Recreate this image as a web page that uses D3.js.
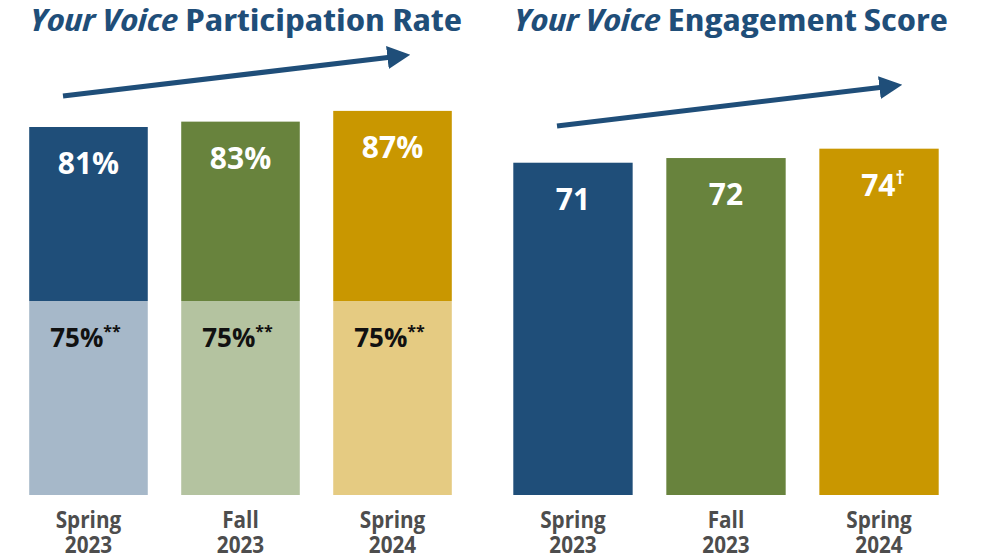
<!DOCTYPE html>
<html>
<head>
<meta charset="utf-8">
<script src="https://cdn.jsdelivr.net/npm/d3@7"></script>
<style>
  body { margin: 0; background: #fff; }
  text { font-family: "Open Sans", sans-serif; font-weight: 700; }
  .cond { font-stretch: condensed; }
</style>
</head>
<body>
<script>
const WIDTH = 988;
const HEIGHT = 560;

// data
var terms = ['Spring 2023', 'Fall 2023', 'Spring 2024'];
var participation = [81, 83, 87];
var participationBenchmark = [75, 75, 75];
var engagement = [71, 72, 74];
var engagementMarks = ['', '', '\u2020'];

var darkColors = ['#1f4e79', '#68833d', '#c99700'];
var lightColors = ['#a6b8c9', '#b4c3a0', '#e5cb82'];
var TITLE_COLOR = '#1f4e79';

var svg = d3.select('body').append('svg')
  .attr('width', WIDTH)
  .attr('height', HEIGHT);

var BOTTOM = 495;

// left panel: the benchmark part and the rate part are drawn on a split scale
var xLeft = d3.scaleBand().domain(terms).range([14, 467]).paddingInner(0.22).paddingOuter(0.1);
var yLeft = d3.scaleLinear().domain([0, 75, 81, 100]).range([BOTTOM, 301, 127, 76]);

var xRight = d3.scaleBand().domain(terms).range([498, 954]).paddingInner(0.22).paddingOuter(0.1);
var yRight = d3.scaleLinear().domain([0, 100]).range([BOTTOM, 27]);

var squeeze = function(sel, k){
  sel.each(function(){
    var x = +this.getAttribute('x'), y = +this.getAttribute('y');
    d3.select(this).attr('transform', 'translate(' + x + ',' + y + ') scale(' + k + ',1) translate(' + (-x) + ',' + (-y) + ')');
  });
};

// titles
var drawTitle = function(x, width, rest){
  var t = svg.append('text')
    .classed('cond', true)
    .attr('x', x).attr('y', 31)
    .attr('font-size', 30)
    .attr('fill', TITLE_COLOR);
  t.append('tspan').attr('font-style', 'italic').text('Your Voice');
  t.append('tspan').text(' ' + rest);
  squeeze(t, width / t.node().getComputedTextLength());
};
drawTitle(30, 432, 'Participation Rate');
drawTitle(514, 434, 'Engagement Score');

// arrows
svg.append('defs').append('marker')
  .attr('id', 'head')
  .attr('viewBox', '0 0 10 10')
  .attr('refX', 2).attr('refY', 5)
  .attr('markerWidth', 4.6).attr('markerHeight', 5.4)
  .attr('orient', 'auto')
  .append('path').attr('d', 'M0,0 L10,5 L0,10 Z').attr('fill', TITLE_COLOR);

var drawArrow = function(x1, y1, x2, y2){
  svg.append('line')
    .attr('x1', x1).attr('y1', y1).attr('x2', x2).attr('y2', y2)
    .attr('stroke', TITLE_COLOR).attr('stroke-width', 5)
    .attr('marker-end', 'url(#head)');
};
drawArrow(63, 96, 392, 57);
drawArrow(557, 126, 884, 87);

// left bars
var left = svg.append('g');
left.selectAll('rect.bench').data(terms).enter().append('rect')
  .attr('x', function(d){ return xLeft(d); })
  .attr('width', xLeft.bandwidth())
  .attr('y', function(d, i){ return yLeft(participationBenchmark[i]); })
  .attr('height', function(d, i){ return BOTTOM - yLeft(participationBenchmark[i]); })
  .attr('fill', function(d, i){ return lightColors[i]; });

left.selectAll('rect.rate').data(terms).enter().append('rect')
  .attr('x', function(d){ return xLeft(d); })
  .attr('width', xLeft.bandwidth())
  .attr('y', function(d, i){ return yLeft(participation[i]); })
  .attr('height', function(d, i){ return yLeft(participationBenchmark[i]) - yLeft(participation[i]); })
  .attr('fill', function(d, i){ return darkColors[i]; });

left.selectAll('text.rate').data(terms).enter().append('text')
  .attr('x', function(d){ return xLeft(d) + xLeft.bandwidth()/2; })
  .attr('y', function(d, i){ return yLeft(participation[i]) + 47; })
  .attr('text-anchor', 'middle')
  .attr('font-size', 30)
  .attr('fill', '#fff')
  .text(function(d, i){ return participation[i] + '%'; });

var bench = left.selectAll('text.bench').data(terms).enter().append('text')
  .attr('x', function(d){ return xLeft(d) + xLeft.bandwidth()/2 - 3; })
  .attr('y', function(d, i){ return yLeft(participationBenchmark[i]) + 46; })
  .attr('text-anchor', 'middle')
  .attr('font-size', 26)
  .attr('fill', '#111');
bench.append('tspan').text(function(d, i){ return participationBenchmark[i] + '%'; });
bench.append('tspan').attr('font-size', 16).attr('dy', -10).text('**');

// right bars
var right = svg.append('g');
right.selectAll('rect').data(terms).enter().append('rect')
  .attr('x', function(d){ return xRight(d); })
  .attr('width', xRight.bandwidth())
  .attr('y', function(d, i){ return yRight(engagement[i]); })
  .attr('height', function(d, i){ return BOTTOM - yRight(engagement[i]); })
  .attr('fill', function(d, i){ return darkColors[i]; });

var eng = right.selectAll('text').data(terms).enter().append('text')
  .attr('x', function(d, i){ return xRight(d) + xRight.bandwidth()/2 + (engagementMarks[i] ? 4 : 0); })
  .attr('y', function(d, i){ return yRight(engagement[i]) + 47; })
  .attr('text-anchor', 'middle')
  .attr('font-size', 30)
  .attr('fill', '#fff');
eng.append('tspan').text(function(d, i){ return engagement[i]; });
eng.append('tspan').attr('font-size', 18).attr('dy', -12).text(function(d, i){ return engagementMarks[i]; });

// category labels, two lines in one text element
var drawLabels = function(scale){
  var g = svg.append('g');
  terms.forEach(function(t){
    var parts = t.split(' ');
    var cx = scale(t) + scale.bandwidth()/2;
    var label = g.append('text')
      .attr('x', cx)
      .attr('y', 528)
      .attr('text-anchor', 'middle')
      .attr('font-size', 23)
      .attr('fill', '#4d4d4d');
    parts.forEach(function(p, j){
      label.append('tspan').attr('x', cx).attr('dy', j ? 25 : 0).text(p);
    });
  });
  squeeze(g.selectAll('text'), 0.9);
};
drawLabels(xLeft);
drawLabels(xRight);
</script>
</body>
</html>
